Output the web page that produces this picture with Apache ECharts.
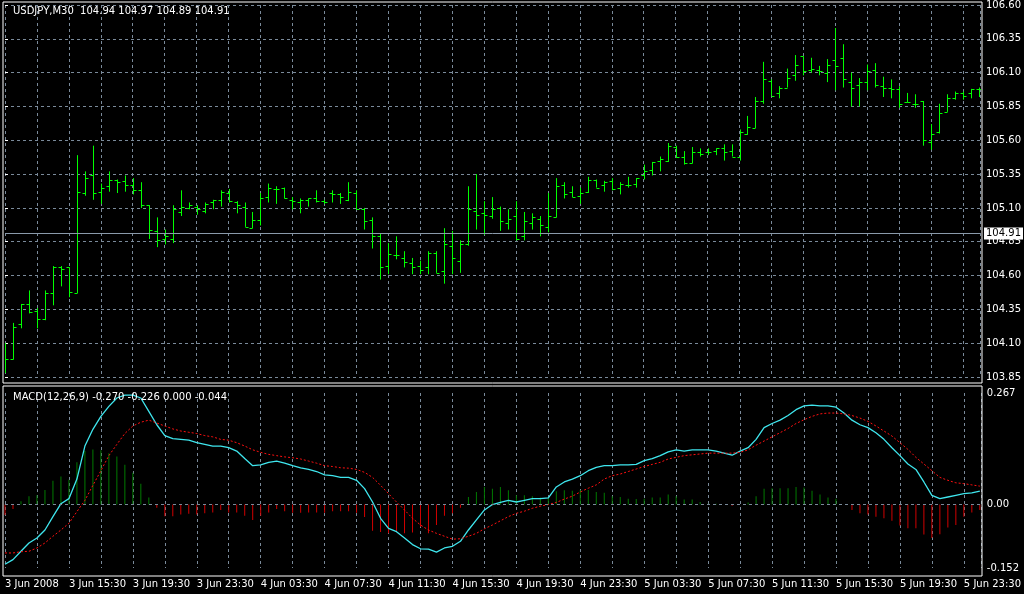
<!DOCTYPE html>
<html><head><meta charset="utf-8">
<script src="https://cdn.jsdelivr.net/npm/echarts@6/dist/echarts.min.js"></script>
<style>html,body{margin:0;padding:0;background:#000}#c{width:1024px;height:594px}</style>
</head><body><div id="c"></div>
<script>
const opens=[103.90,103.98,104.24,104.39,104.34,104.28,104.47,104.66,104.66,104.47,105.21,105.34,105.22,105.26,105.31,105.30,105.27,105.23,105.12,104.93,104.87,104.87,105.07,105.10,105.11,105.08,105.14,105.16,105.21,105.14,105.11,104.95,105.01,105.18,105.24,105.25,105.16,105.14,105.16,105.17,105.15,105.21,105.20,105.16,105.21,105.09,105.01,104.89,104.67,104.75,104.73,104.69,104.67,104.66,104.77,104.63,104.82,104.71,104.83,105.08,105.06,105.04,105.10,104.99,105.04,104.89,104.99,105.02,104.96,105.03,105.27,105.22,105.19,105.22,105.31,105.27,105.30,105.25,105.27,105.28,105.34,105.38,105.45,105.45,105.55,105.48,105.43,105.51,105.51,105.52,105.54,105.52,105.48,105.65,105.69,105.89,106.04,105.95,105.99,106.08,106.22,106.12,106.12,106.10,106.19,106.21,106.03,106.01,106.03,106.12,106.00,105.99,105.98,105.88,105.87,105.89,105.59,105.66,105.81,105.91,105.95,105.95,105.98];
const highs=[104.10,104.25,104.39,104.49,104.36,104.49,104.67,104.67,104.66,105.49,105.37,105.56,105.28,105.37,105.31,105.34,105.32,105.29,105.12,105.03,104.94,105.12,105.23,105.14,105.12,105.14,105.16,105.23,105.24,105.15,105.14,105.07,105.21,105.28,105.26,105.25,105.18,105.17,105.17,105.23,105.16,105.23,105.21,105.29,105.23,105.10,105.03,104.91,104.84,104.89,104.78,104.73,104.71,104.78,104.78,104.95,104.93,104.86,105.26,105.35,105.15,105.18,105.11,105.09,105.15,105.07,105.06,105.04,105.21,105.32,105.29,105.26,105.25,105.33,105.31,105.30,105.32,105.29,105.33,105.32,105.42,105.44,105.48,105.58,105.56,105.52,105.55,105.54,105.54,105.54,105.57,105.57,105.68,105.78,105.92,106.18,106.05,106.00,106.13,106.23,106.22,106.21,106.15,106.20,106.43,106.31,106.10,106.06,106.16,106.17,106.07,106.05,106.00,105.95,105.94,105.89,105.72,105.87,105.94,105.96,105.96,105.98,105.99];
const lows=[103.88,103.98,104.21,104.32,104.21,104.27,104.38,104.52,104.44,104.47,105.19,105.16,105.13,105.22,105.21,105.22,105.20,105.10,104.87,104.81,104.83,104.84,105.04,105.09,105.05,105.06,105.09,105.11,105.14,105.06,104.96,104.95,104.97,105.14,105.13,105.17,105.09,105.06,105.11,105.14,105.13,105.14,105.13,105.15,105.09,104.94,104.80,104.57,104.61,104.72,104.66,104.61,104.61,104.61,104.62,104.54,104.61,104.62,104.82,104.94,104.90,105.02,104.93,104.94,104.86,104.86,104.94,104.89,104.92,105.03,105.17,105.18,105.13,105.21,105.25,105.22,105.23,105.20,105.25,105.25,105.31,105.34,105.37,105.44,105.47,105.42,105.43,105.48,105.49,105.49,105.45,105.48,105.45,105.64,105.69,105.87,105.93,105.91,105.99,106.04,106.08,106.10,106.08,106.03,105.97,105.99,105.85,105.85,105.97,105.99,105.92,105.91,105.84,105.88,105.84,105.56,105.53,105.65,105.81,105.90,105.90,105.91,105.92];
const closes=[103.98,104.22,104.39,104.33,104.28,104.47,104.66,104.65,104.48,105.22,105.32,105.21,105.25,105.31,105.29,105.27,105.23,105.12,104.94,104.86,104.89,105.09,105.11,105.12,105.09,105.13,105.16,105.22,105.15,105.12,104.96,105.01,105.17,105.25,105.24,105.17,105.15,105.16,105.17,105.15,105.14,105.20,105.18,105.22,105.09,105.00,104.89,104.66,104.76,104.75,104.70,104.66,104.64,104.77,104.62,104.83,104.73,104.83,105.09,105.05,105.05,105.09,105.00,105.02,104.87,105.00,105.03,104.97,105.04,105.26,105.20,105.18,105.21,105.31,105.25,105.29,105.24,105.28,105.27,105.32,105.37,105.44,105.46,105.56,105.48,105.43,105.51,105.50,105.51,105.54,105.51,105.48,105.66,105.70,105.89,106.05,105.93,105.99,106.06,106.16,106.11,106.13,106.11,106.16,106.15,106.05,105.99,106.03,106.11,106.01,105.99,105.98,105.87,105.88,105.87,105.60,105.65,105.80,105.91,105.95,105.93,105.98,105.98];
const macdMain=[-0.143,-0.132,-0.112,-0.092,-0.080,-0.061,-0.029,0.002,0.014,0.061,0.140,0.180,0.211,0.235,0.255,0.262,0.262,0.255,0.223,0.191,0.165,0.158,0.156,0.154,0.148,0.144,0.140,0.140,0.136,0.128,0.110,0.093,0.095,0.101,0.104,0.099,0.093,0.088,0.084,0.079,0.071,0.069,0.065,0.065,0.058,0.038,0.006,-0.033,-0.057,-0.065,-0.080,-0.096,-0.106,-0.107,-0.114,-0.104,-0.100,-0.088,-0.061,-0.037,-0.013,0.000,0.005,0.010,0.006,0.010,0.014,0.014,0.016,0.042,0.054,0.061,0.069,0.081,0.089,0.093,0.093,0.095,0.095,0.096,0.105,0.110,0.117,0.126,0.131,0.128,0.131,0.131,0.131,0.128,0.123,0.118,0.128,0.136,0.156,0.184,0.194,0.202,0.213,0.227,0.236,0.238,0.236,0.236,0.233,0.219,0.202,0.191,0.184,0.172,0.156,0.136,0.117,0.097,0.084,0.054,0.022,0.014,0.018,0.022,0.026,0.028,0.032];
const macdSignal=[-0.116,-0.116,-0.113,-0.112,-0.104,-0.092,-0.076,-0.061,-0.045,-0.017,0.010,0.046,0.081,0.117,0.144,0.170,0.188,0.197,0.202,0.195,0.188,0.181,0.176,0.173,0.170,0.165,0.162,0.156,0.154,0.148,0.140,0.131,0.125,0.120,0.117,0.114,0.112,0.109,0.104,0.099,0.093,0.091,0.088,0.087,0.084,0.077,0.065,0.046,0.026,0.006,-0.013,-0.033,-0.049,-0.061,-0.069,-0.076,-0.083,-0.082,-0.076,-0.069,-0.058,-0.049,-0.039,-0.029,-0.021,-0.016,-0.009,-0.004,0.000,0.005,0.013,0.020,0.030,0.039,0.047,0.061,0.069,0.073,0.079,0.085,0.091,0.096,0.101,0.109,0.113,0.117,0.119,0.121,0.123,0.123,0.123,0.123,0.125,0.131,0.142,0.152,0.162,0.172,0.182,0.194,0.203,0.211,0.217,0.219,0.219,0.217,0.213,0.207,0.199,0.188,0.176,0.164,0.148,0.132,0.113,0.097,0.081,0.065,0.058,0.052,0.050,0.047,0.044];
const macdHist=[-0.025,-0.011,0.008,0.020,0.022,0.035,0.057,0.067,0.059,0.101,0.128,0.132,0.130,0.123,0.115,0.095,0.076,0.050,0.017,-0.008,-0.028,-0.028,-0.024,-0.022,-0.024,-0.021,-0.019,-0.013,-0.019,-0.019,-0.027,-0.037,-0.027,-0.019,-0.011,-0.016,-0.020,-0.020,-0.019,-0.019,-0.020,-0.016,-0.016,-0.016,-0.020,-0.030,-0.063,-0.066,-0.069,-0.065,-0.069,-0.067,-0.053,-0.069,-0.049,-0.027,-0.021,-0.008,0.018,0.030,0.042,0.038,0.042,0.034,0.022,0.022,0.020,0.017,0.018,0.032,0.034,0.033,0.035,0.035,0.030,0.028,0.020,0.018,0.014,0.013,0.014,0.017,0.017,0.024,0.020,0.012,0.012,0.006,0.002,0.002,0.000,-0.003,0.000,0.005,0.020,0.038,0.039,0.039,0.039,0.042,0.041,0.033,0.024,0.017,0.014,0.000,-0.013,-0.021,-0.024,-0.029,-0.033,-0.039,-0.050,-0.057,-0.057,-0.072,-0.080,-0.071,-0.055,-0.049,-0.029,-0.019,-0.013];
const priceTicks=[103.85,104.10,104.35,104.60,104.85,105.10,105.35,105.60,105.85,106.10,106.35,106.60];
const timeLabels=['3 Jun 2008','3 Jun 15:30','3 Jun 19:30','3 Jun 23:30','4 Jun 03:30','4 Jun 07:30','4 Jun 11:30','4 Jun 15:30','4 Jun 19:30','4 Jun 23:30','5 Jun 03:30','5 Jun 07:30','5 Jun 11:30','5 Jun 15:30','5 Jun 19:30','5 Jun 23:30'];
const lastPrice=104.91;

const FONT='DejaVu Sans';
const gridCol='#7a8a9a';
const ohlc=opens.map((o,i)=>[i,o,highs[i],lows[i],closes[i]]);
const chart=echarts.init(document.getElementById('c'));
const xBase={type:'value',min:0,max:122.125,interval:4,axisLine:{show:false},axisTick:{show:false},
  splitLine:{show:true,lineStyle:{color:gridCol,type:[3,3],width:1}}};
chart.setOption({
  backgroundColor:'#000',animation:false,
  textStyle:{fontFamily:FONT},
  title:[{text:'USDJPY,M30  104.94 104.97 104.89 104.91',left:8,top:1,textStyle:{color:'#fff',fontSize:10,fontWeight:'normal',fontFamily:FONT}},
         {text:'MACD(12,26,9) -0.270 -0.226 0.000 -0.044',left:8,top:387,textStyle:{color:'#fff',fontSize:10,fontWeight:'normal',fontFamily:FONT}}],
  grid:[{left:5,width:977,top:3,height:374},{left:5,width:977,top:393,height:175}],
  xAxis:[Object.assign({gridIndex:0,axisLabel:{show:false}},xBase),
         Object.assign({gridIndex:1,axisLabel:{show:true,color:'#fff',fontSize:10,fontFamily:FONT,align:'left',margin:11,showMaxLabel:false,
           formatter:v=>(v%8===0&&timeLabels[v/8]!==undefined)?timeLabels[v/8]:''}},xBase)],
  yAxis:[{gridIndex:0,type:'value',position:'right',min:103.85,max:106.60,interval:0.25,
      axisLine:{show:false},axisTick:{show:true,length:3,lineStyle:{color:'#fff'}},
      axisLabel:{color:'#fff',fontSize:10,fontFamily:FONT,margin:6,formatter:v=>v.toFixed(2)},
      splitLine:{show:true,lineStyle:{color:gridCol,type:[3,3]}}},
    {gridIndex:1,type:'value',position:'right',min:-0.152,max:0.267,interval:1,
      axisLine:{show:false},axisTick:{show:false},splitLine:{show:false},
      axisLabel:{color:'#fff',fontSize:10,fontFamily:FONT,margin:6,showMinLabel:true,showMaxLabel:true,formatter:v=>v.toFixed(3)}}],
  graphic:[
    {type:'rect',shape:{x:3,y:2,width:979,height:381},style:{fill:null,stroke:'#fff',lineWidth:1},silent:true,z:100},
    {type:'rect',shape:{x:3,y:386,width:979,height:190},style:{fill:null,stroke:'#fff',lineWidth:1},silent:true,z:100}
  ],
  series:[
    {type:'custom',xAxisIndex:0,yAxisIndex:0,data:ohlc,clip:true,
      renderItem:(params,api)=>{
        const x=api.value(0);
        const pO=api.coord([x,api.value(1)]),pH=api.coord([x,api.value(2)]),pL=api.coord([x,api.value(3)]),pC=api.coord([x,api.value(4)]);
        const st={stroke:'#00ff00',lineWidth:1};
        const cx=Math.round(pH[0])+0.5;
        return {type:'group',children:[
          {type:'line',shape:{x1:cx,y1:pH[1],x2:cx,y2:pL[1]},style:st},
          {type:'line',shape:{x1:cx-3,y1:Math.round(pO[1])+0.5,x2:cx,y2:Math.round(pO[1])+0.5},style:st},
          {type:'line',shape:{x1:cx,y1:Math.round(pC[1])+0.5,x2:cx+3,y2:Math.round(pC[1])+0.5},style:st}]};
      },
      markLine:{silent:true,symbol:'none',data:[{yAxis:lastPrice}],lineStyle:{color:'#8a9aaa',type:'solid',width:1},
        label:{show:true,position:'end',formatter:'104.91',color:'#000',backgroundColor:'#fff',padding:[1,2],fontSize:10,fontFamily:FONT,distance:4}}},
    {type:'bar',xAxisIndex:1,yAxisIndex:1,barWidth:1,data:macdHist.map((v,i)=>[i,v]),
      itemStyle:{color:p=>p.value[1]>=0?'#007a00':'#d00000'},
      markLine:{silent:true,symbol:'none',data:[{yAxis:0}],lineStyle:{color:gridCol,type:[3,3],width:1},
        label:{show:true,position:'end',formatter:'0.00',color:'#fff',fontSize:10,fontFamily:FONT,distance:6}}},
    {type:'line',xAxisIndex:1,yAxisIndex:1,data:macdMain.map((v,i)=>[i,v]),showSymbol:false,lineStyle:{color:'#3fe6ee',width:1.3}},
    {type:'line',xAxisIndex:1,yAxisIndex:1,data:macdSignal.map((v,i)=>[i,v]),showSymbol:false,lineStyle:{color:'#ff1010',width:1,type:[2,2]}}
  ]
});
</script></body></html>
